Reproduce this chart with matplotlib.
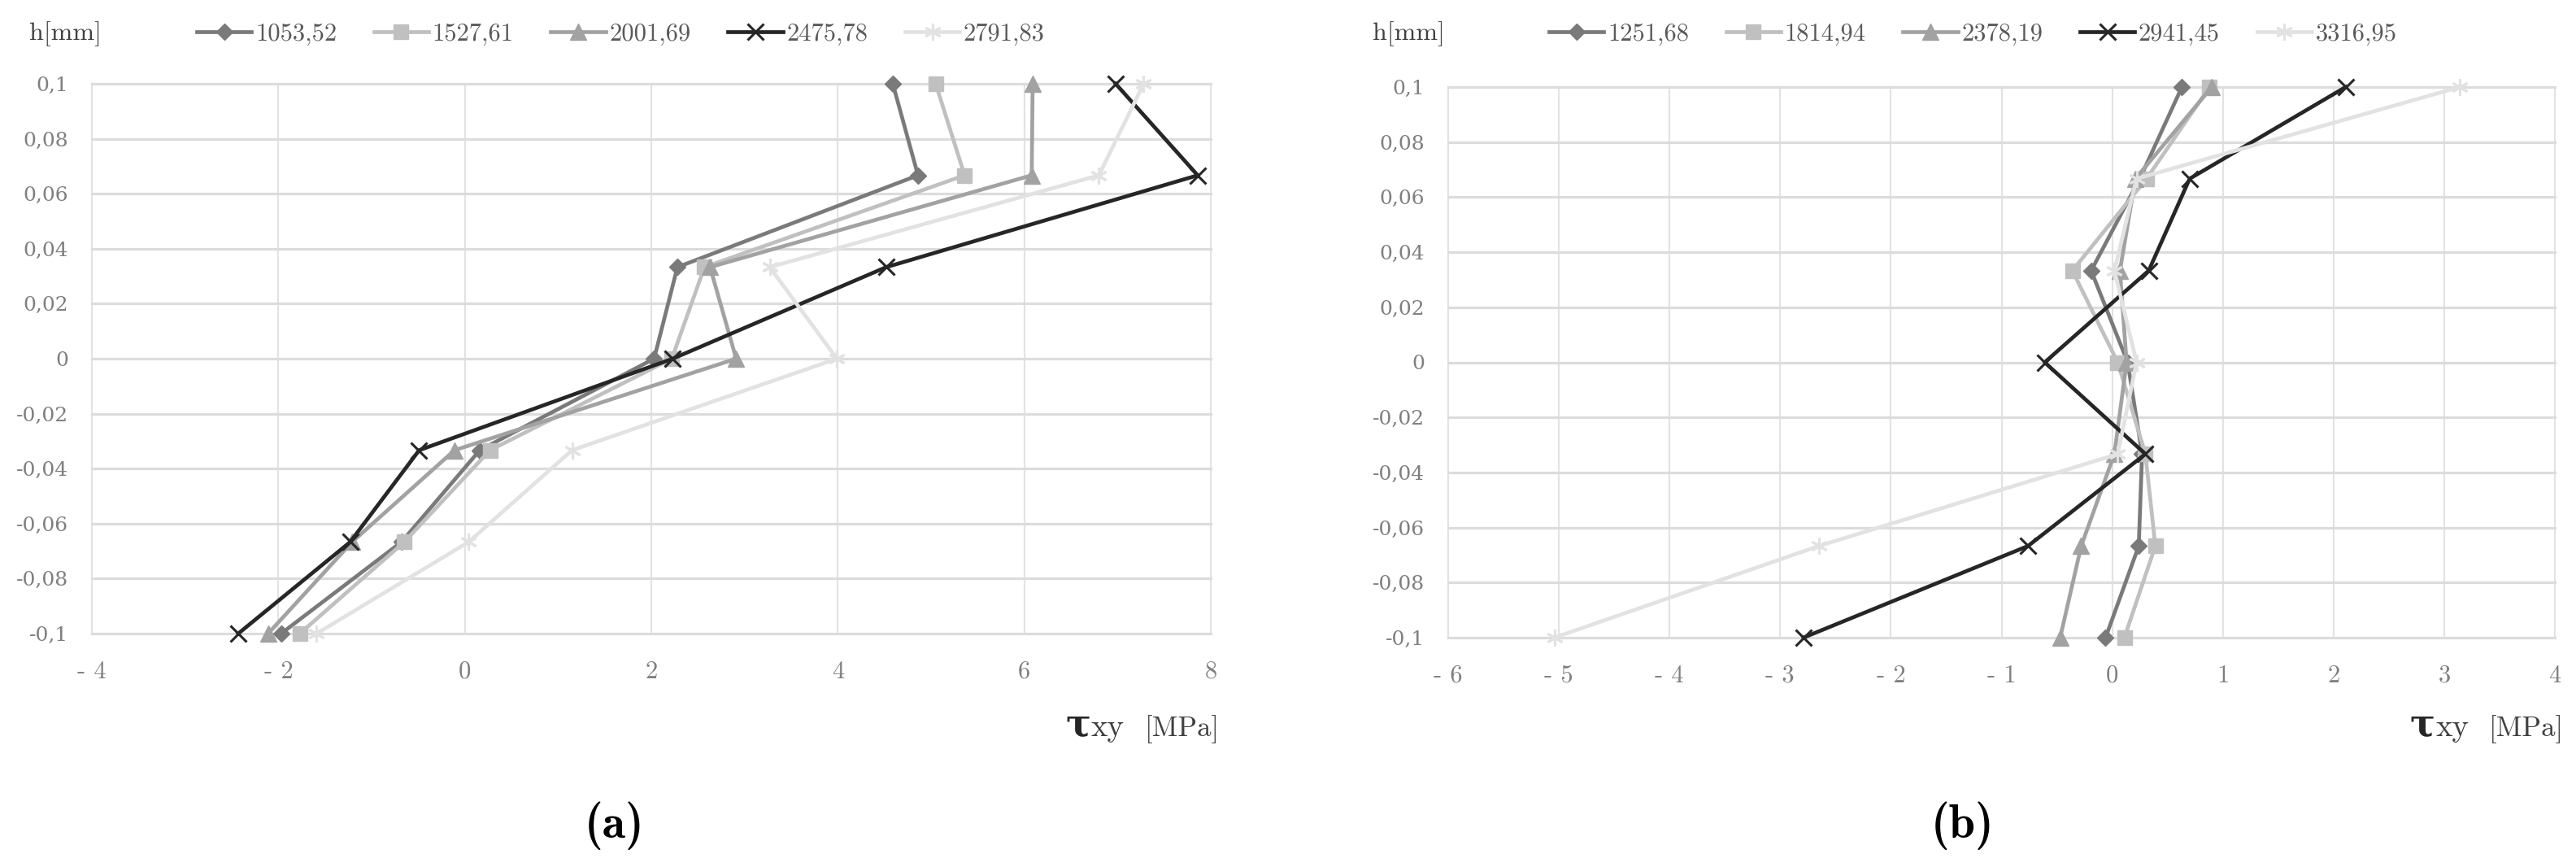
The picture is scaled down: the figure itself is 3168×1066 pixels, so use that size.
import matplotlib
matplotlib.use("Agg")
from matplotlib import pyplot as plt
from matplotlib.lines import Line2D

W, H = 3168, 1066

# heights (mm) of the measurement points, top to bottom
h = [0.1, 0.0667, 0.0333, 0.0, -0.0333, -0.0667, -0.1]

# panel (a)
labels_a = ["1053,52", "1527,61", "2001,69", "2475,78", "2791,83"]
tau_a_1053 = [4.59, 4.86, 2.28, 2.03, 0.16, -0.68, -1.97]
tau_a_1527 = [5.05, 5.36, 2.57, 2.22, 0.27, -0.65, -1.77]
tau_a_2001 = [6.09, 6.08, 2.63, 2.91, -0.11, -1.21, -2.11]
tau_a_2475 = [6.98, 7.86, 4.52, 2.23, -0.49, -1.23, -2.43]
tau_a_2791 = [7.28, 6.80, 3.27, 3.99, 1.15, 0.04, -1.59]

# panel (b)
labels_b = ["1251,68", "1814,94", "2378,19", "2941,45", "3316,95"]
tau_b_1251 = [0.63, 0.25, -0.19, 0.14, 0.27, 0.24, -0.06]
tau_b_1814 = [0.88, 0.31, -0.36, 0.05, 0.30, 0.39, 0.11]
tau_b_2378 = [0.90, 0.21, 0.07, 0.13, 0.02, -0.28, -0.47]
tau_b_2941 = [2.11, 0.70, 0.33, -0.61, 0.30, -0.76, -2.79]
tau_b_3316 = [3.14, 0.22, 0.02, 0.22, 0.05, -2.65, -5.04]

y_ticks = [-0.1, -0.08, -0.06, -0.04, -0.02, 0, 0.02, 0.04, 0.06, 0.08, 0.1]
y_tick_labels = ["-0,1", "-0,08", "-0,06", "-0,04", "-0,02", "0",
                 "0,02", "0,04", "0,06", "0,08", "0,1"]
x_ticks_a = [-4, -2, 0, 2, 4, 6, 8]
x_tick_labels_a = ["- 4", "- 2", "0", "2", "4", "6", "8"]
x_ticks_b = [-6, -5, -4, -3, -2, -1, 0, 1, 2, 3, 4]
x_tick_labels_b = ["- 6", "- 5", "- 4", "- 3", "- 2", "- 1", "0", "1", "2", "3", "4"]

colors = ["#7a7a7a", "#c0c0c0", "#a2a2a2", "#262626", "#e2e2e2"]
markers = ["D", "s", "^", "x", (6, 2, 0)]
msizes = [10, 13, 15, 15, 15]

CM = ["cmr10", "DejaVu Serif"]
CMB = ["cmb10", "DejaVu Serif"]


def style_for(i):
    filled = i < 3
    return dict(color=colors[i], lw=3.4, marker=markers[i], ms=msizes[i],
                mfc=colors[i], mec=colors[i], mew=1 if filled else 2.2)


def draw_panel(ax, series, xlim, xticks, xlabels):
    for i, vals in enumerate(series):
        ax.plot(vals, h, clip_on=False, zorder=3 + i, **style_for(i))
    ax.set_xlim(*xlim)
    ax.set_ylim(-0.1, 0.1)
    for x in xticks:
        ax.axvline(x, color="#e2e2e2", lw=1.5, zorder=0, clip_on=False)
    for y in y_ticks:
        ax.axhline(y, color="#dcdcdc", lw=2.3, zorder=0, clip_on=False)
    for s in ax.spines.values():
        s.set_visible(False)
    ax.set_xticks(xticks)
    ax.set_xticklabels(xlabels, family=CM, fontsize=22, color="#7f7f7f")
    ax.set_yticks(y_ticks)
    ax.set_yticklabels(y_tick_labels, family="DejaVu Serif", fontsize=18, color="#7f7f7f")
    ax.tick_params(axis="x", length=0, pad=24)
    ax.tick_params(axis="y", length=0, pad=21)


fig = plt.figure(figsize=(W / 100, H / 100), dpi=100)
ax1 = fig.add_axes([113 / W, 1 - 779 / H, (1489 - 113) / W, (779 - 103) / H])
ax2 = fig.add_axes([1781 / W, 1 - 784 / H, (3142 - 1781) / W, (784 - 107) / H])

draw_panel(ax1, [tau_a_1053, tau_a_1527, tau_a_2001, tau_a_2475, tau_a_2791],
           (-4, 8), x_ticks_a, x_tick_labels_a)
draw_panel(ax2, [tau_b_1251, tau_b_1814, tau_b_2378, tau_b_2941, tau_b_3316],
           (-6, 4), x_ticks_b, x_tick_labels_b)

# legends across the top
for labels, x_h, x_leg in [(labels_a, 36, 242), (labels_b, 1688, 1905)]:
    handles = [Line2D([], [], **style_for(i)) for i in range(5)]
    fig.text(x_h / W, 1 - 42 / H, "h[mm]", family=CM, fontsize=23,
             color="#404040", va="center", ha="left")
    fig.legend(handles, labels, loc="center left", bbox_to_anchor=(x_leg / W, 1 - 42 / H),
               ncol=5, frameon=False, borderpad=0, borderaxespad=0,
               handlelength=2.2, handletextpad=0.15, columnspacing=1.5,
               prop=dict(family=CM, size=22), labelcolor="#595959")

# axis titles  tau_xy [MPa]
for ax_right in (1489, 3142):
    base = 1 - 905 / H
    fig.text((ax_right - 179) / W, base, "τ", family="DejaVu Serif", weight="bold",
             fontsize=33, color="#262626", va="baseline")
    fig.text((ax_right - 147) / W, base, "xy", family=CM, fontsize=28,
             color="#404040", va="baseline")
    fig.text((ax_right - 81) / W, base, "[MPa]", family=CM, fontsize=25,
             color="#404040", va="baseline")

fig.text(756 / W, 1 - 1015 / H, "(a)", family=CMB, fontsize=42, ha="center", va="center")
fig.text(2414 / W, 1 - 1015 / H, "(b)", family=CMB, fontsize=42, ha="center", va="center")

fig.savefig("out.png", dpi=100)
plt.close(fig)
